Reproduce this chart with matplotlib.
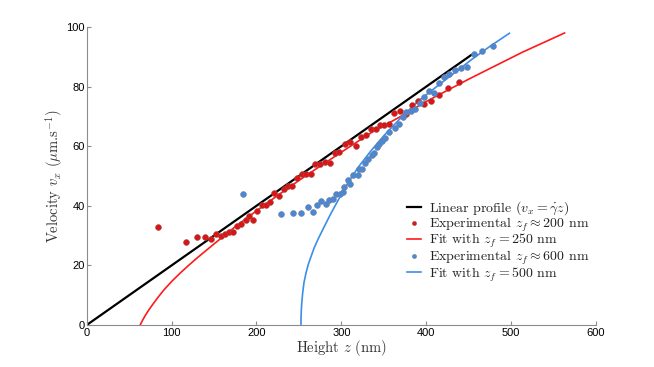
import matplotlib
matplotlib.use("Agg")
import matplotlib.pyplot as plt

plt.rcParams["mathtext.fontset"] = "cm"
plt.rcParams["axes.unicode_minus"] = False

# linear profile
lin_z = [0, 453]
lin_v = [0, 90.6]

# experimental z_f ~ 200 nm
red_z = [83.6, 116.7, 130.2, 139.2, 145.9, 152.2, 157.8, 162.8, 168.0, 172.8,
         177.5, 182.2, 187.2, 191.5, 196.2, 201.2, 206.3, 211.4, 216.1, 221.0,
         226.8, 232.3, 237.6, 242.3, 247.7, 253.3, 258.8, 263.8, 269.2, 275.1,
         280.8, 286.7, 292.7, 297.8, 304.5, 310.4, 317.5, 323.4, 329.3, 335.3,
         340.4, 345.9, 350.3, 355.7, 362.1, 368.8, 375.9, 383.4, 390.5, 397.6,
         405.4, 414.9, 425.2, 438.6]
red_v = [32.8, 27.8, 29.4, 29.5, 28.9, 30.5, 30.0, 30.5, 31.2, 31.2,
         33.2, 33.8, 35.1, 36.6, 35.4, 38.3, 40.2, 40.4, 41.3, 44.2,
         43.3, 45.5, 46.8, 46.6, 49.5, 50.6, 50.7, 50.7, 54.1, 54.1,
         54.8, 54.4, 57.7, 58.0, 60.9, 61.4, 60.0, 63.2, 63.6, 65.7,
         65.7, 67.0, 67.1, 67.4, 71.0, 71.7, 70.8, 73.7, 75.1, 74.3,
         75.2, 77.2, 79.5, 81.6]

# fit z_f = 250 nm
red_fit_z = [63, 64, 66, 69, 73, 78, 84, 91, 100, 110, 120, 130, 150, 175, 200,
             225, 250, 275, 300, 335, 370, 400, 450, 513, 563]
red_fit_v = [0, 0.6, 1.7, 3.2, 5.0, 7.0, 9.3, 11.8, 14.6, 17.4, 20.0, 22.5,
             27.2, 33.0, 38.3, 43.5, 48.5, 53.3, 58.0, 64.5, 70.0, 75.0, 82.5,
             91.5, 98.0]

# experimental z_f ~ 600 nm
blue_z = [184.6, 228.4, 243.0, 252.4, 260.4, 266.6, 271.7, 276.5, 281.7, 285.9,
          289.9, 294.2, 298.6, 301.5, 303.7, 307.7, 310.4, 314.3, 319.5, 320.2,
          324.3, 327.4, 330.9, 336.1, 338.5, 341.5, 344.7, 347.9, 351.0, 356.6,
          363.7, 368.0, 372.8, 376.7, 381.8, 386.5, 392.4, 397.6, 403.0, 408.9,
          415.3, 420.5, 426.7, 433.8, 440.9, 447.7, 456.3, 465.4, 478.5]
blue_v = [43.9, 37.1, 37.5, 37.5, 39.6, 38.0, 40.3, 41.5, 40.7, 42.1,
          42.3, 43.9, 44.1, 44.5, 46.2, 48.5, 47.4, 50.5, 50.5, 52.2,
          52.5, 54.2, 55.8, 57.2, 57.8, 59.8, 60.9, 61.7, 62.9, 64.7,
          66.2, 67.6, 69.9, 71.6, 71.8, 72.6, 74.6, 76.5, 78.5, 78.0,
          81.1, 83.1, 84.2, 85.5, 86.2, 86.6, 91.1, 91.8, 93.7]

# fit z_f = 500 nm
blue_fit_z = [252.4, 252.5, 252.9, 253.4, 254.4, 256.0, 258.3, 261.0, 264.3,
              268.0, 272.2, 280.0, 288.0, 297.8, 307.7, 319.5, 335, 350, 370,
              390, 414, 435, 454, 475, 498]
blue_fit_v = [0, 2.5, 5.3, 7.5, 10.7, 14.3, 17.4, 20.3, 23.0, 25.9, 28.6, 33.1,
              37.6, 42.7, 47.7, 52.8, 58.5, 63.5, 69.5, 75.0, 80.4, 85.0, 89.2,
              93.5, 97.9]

red_dot = "#dc1414"
blue_dot = "#4a88d6"
red_line = "#ff1a1a"
blue_line = "#3b8ee8"

fig = plt.figure(figsize=(6.54, 3.67), dpi=100)
ax = fig.add_axes([0.1326, 0.1144, 0.7787, 0.812])

l1, = ax.plot(lin_z, lin_v, color="black", lw=1.6, zorder=2)
l3, = ax.plot(red_fit_z, red_fit_v, color=red_line, lw=1.2, zorder=2)
l5, = ax.plot(blue_fit_z, blue_fit_v, color=blue_line, lw=1.2, zorder=2)
l2, = ax.plot(red_z, red_v, "o", ms=4.2, mfc=red_dot, mec="#9a5050",
              mew=0.4, zorder=3)
l4, = ax.plot(blue_z, blue_v, "o", ms=4.2, mfc=blue_dot, mec="#6f7f99",
              mew=0.4, zorder=3)

ax.set_xlim(0, 600)
ax.set_ylim(0, 100)
ax.set_xticks(range(0, 601, 100))
ax.set_yticks(range(0, 101, 20))
for s in ["top", "right"]:
    ax.spines[s].set_visible(False)
for s in ["left", "bottom"]:
    ax.spines[s].set_color("#8c8c8c")
    ax.spines[s].set_linewidth(0.8)
ax.tick_params(direction="in", length=3, color="#8c8c8c", width=0.8,
               labelsize=8)
ax.tick_params(axis="x", pad=2.5)
ax.tick_params(axis="y", pad=1.5)
for lab in ax.get_xticklabels() + ax.get_yticklabels():
    lab.set_fontfamily("Liberation Sans")

ax.set_xlabel(r"Height $z$ (nm)", fontfamily="cmr10", fontsize=10.5, labelpad=0,
              color="#333333")
ax.set_ylabel(r"Velocity $v_x$ ($\mu$m.s$^{-1}$)", fontfamily="cmr10",
              fontsize=10.5, labelpad=1, color="#333333")

handles = [l1, l2, l3, l4, l5]
labels = [r"Linear profile ($v_x = \dot{\gamma} z$)",
          r"Experimental $z_f \approx 200$ nm",
          r"Fit with $z_f = 250$ nm",
          r"Experimental $z_f \approx 600$ nm",
          r"Fit with $z_f = 500$ nm"]
leg = ax.legend(handles, labels, loc="upper left", bbox_to_anchor=(0.618, 0.44),
                frameon=False, fontsize=10, handlelength=1.0, handletextpad=0.55,
                labelspacing=-0.12, borderaxespad=0, markerscale=0.7)
for t in leg.get_texts():
    t.set_fontfamily("cmr10")
    t.set_color("#222222")

fig.savefig("out.png", dpi=100)
